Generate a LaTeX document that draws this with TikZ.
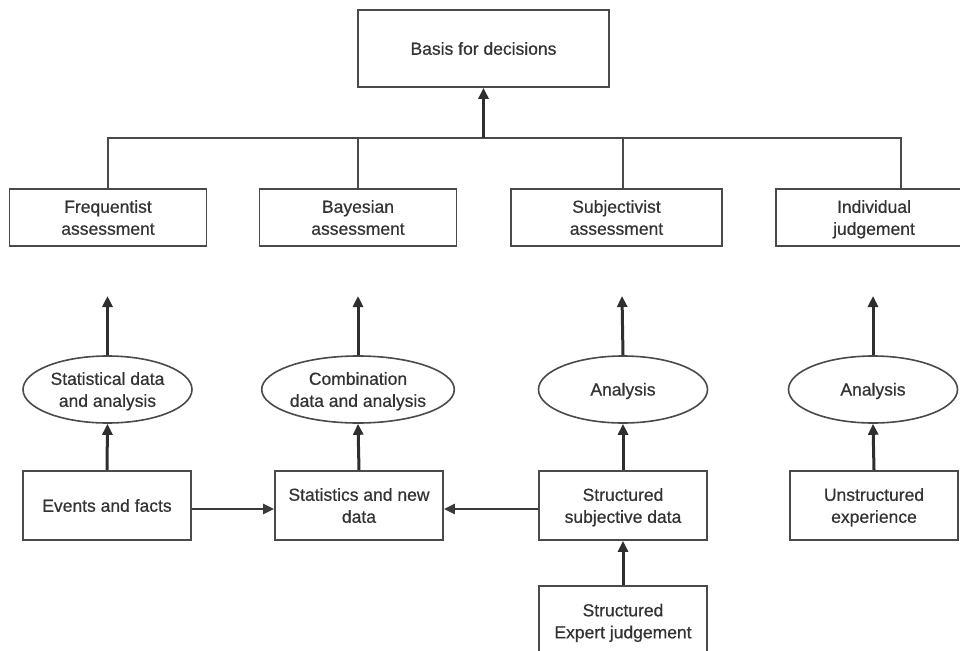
\documentclass[tikz,border=0pt]{standalone}
\usepackage{fontspec}
\setmainfont{Liberation Sans}[FakeBold=0.6]
\usetikzlibrary{shapes.geometric,arrows.meta}
\definecolor{linec}{HTML}{4A4A4A}
\definecolor{arrc}{HTML}{2E2E2E}
\definecolor{sidec}{HTML}{3A3A3A}
\definecolor{txtc}{HTML}{333333}
\begin{document}
\begin{tikzpicture}[x=1pt,y=-1pt,
  every node/.style={text=txtc,font=\fontsize{17.5}{22}\selectfont,align=center,inner sep=0pt},
  box/.style={draw=linec,line width=1.7pt,rectangle},
  oval/.style={draw=linec,line width=1.6pt,ellipse,minimum width=169pt,minimum height=67pt},
  bus/.style={draw=linec,line width=1.7pt},
  up/.style={draw=arrc,line width=3pt,-{Triangle[length=11pt,width=10pt]}},
  side/.style={draw=sidec,line width=2.6pt,-{Triangle[length=11pt,width=10pt]}}
]
\useasboundingbox (0,0) rectangle (960,650);
\clip (0,0) rectangle (960,650);
% top
\node[box,minimum width=251pt,minimum height=77pt] (top) at (483.5,48.5) {Basis for decisions};
% level 2
\node[box,minimum width=197pt,minimum height=57pt] (freq) at (108,217.5) {Frequentist\\assessment};
\node[box,minimum width=197pt,minimum height=57pt] (bayes) at (358,217.5) {Bayesian\\assessment};
\node[box,minimum width=211pt,minimum height=57pt] (subj) at (616.5,217.5) {Subjectivist\\assessment};
\node[box,minimum width=196pt,minimum height=57pt] (indiv) at (874,217.5) {Individual\\\smash{judgement}};
% ellipses
\node[oval] (e1) at (107.5,389.5) {Statistical data\\\smash{and analysis}};
\node[oval] (e2) at (358,389.5) {Combination\\\smash{data and analysis}};
\node[oval] (e3) at (623,389.5) {\smash{Analysis}\vphantom{A}};
\node[oval] (e4) at (873,389.5) {\smash{Analysis}\vphantom{A}};
% row boxes
\node[box,minimum width=168pt,minimum height=69pt] (b1) at (107,505.5) {Events and facts};
\node[box,minimum width=168pt,minimum height=69pt] (b2) at (359,505.5) {Statistics and new\\data};
\node[box,minimum width=168pt,minimum height=69pt] (b3) at (623,505.5) {Structured\\\smash{subjective data}};
\node[box,minimum width=168pt,minimum height=69pt] (b4) at (874,505.5) {Unstructured\\\smash{experience}};
\node[box,minimum width=168pt,minimum height=70pt] (b5) at (623,621) {Structured\\\smash{Expert judgement}};
% bus
\coordinate (bL) at (108,138);
\coordinate (bM) at (483.5,138);
\coordinate (bR) at (901,138);
\coordinate (dR) at (901,189);
\draw[bus] (freq.north) -- (bL) -- (bR) -- (dR);
\draw[bus] (bayes.north) -- (bayes.north |- bL);
\draw[bus] (subj.north -| e3) -- (e3 |- bL);
\draw[up] (bM) -- (top.south);
% arrows up to level 2
\coordinate (t1) at (107.5,296);
\coordinate (t2) at (358,296);
\coordinate (t3) at (622,296);
\coordinate (t4) at (873,296);
\draw[up] (e1.north) -- (t1);
\draw[up] (e2.north) -- (t2);
\draw[up] (e3.north) -- (t3);
\draw[up] (e4.north) -- (t4);
% boxes to ellipses
\draw[up] (b1.north) -- (e1.south);
\draw[up] (b2.north) -- (e2.south);
\draw[up] (b3.north) -- (e3.south);
\draw[up] (b4.north) -- (e4.south);
\draw[up] (b5.north) -- (b3.south);
% side arrows
\draw[side] ([yshift=-3.5pt]b1.east) -- ([yshift=-3.5pt]b2.west);
\draw[side] ([yshift=-3.5pt]b3.west) -- ([yshift=-3.5pt]b2.east);
\end{tikzpicture}
\end{document}
